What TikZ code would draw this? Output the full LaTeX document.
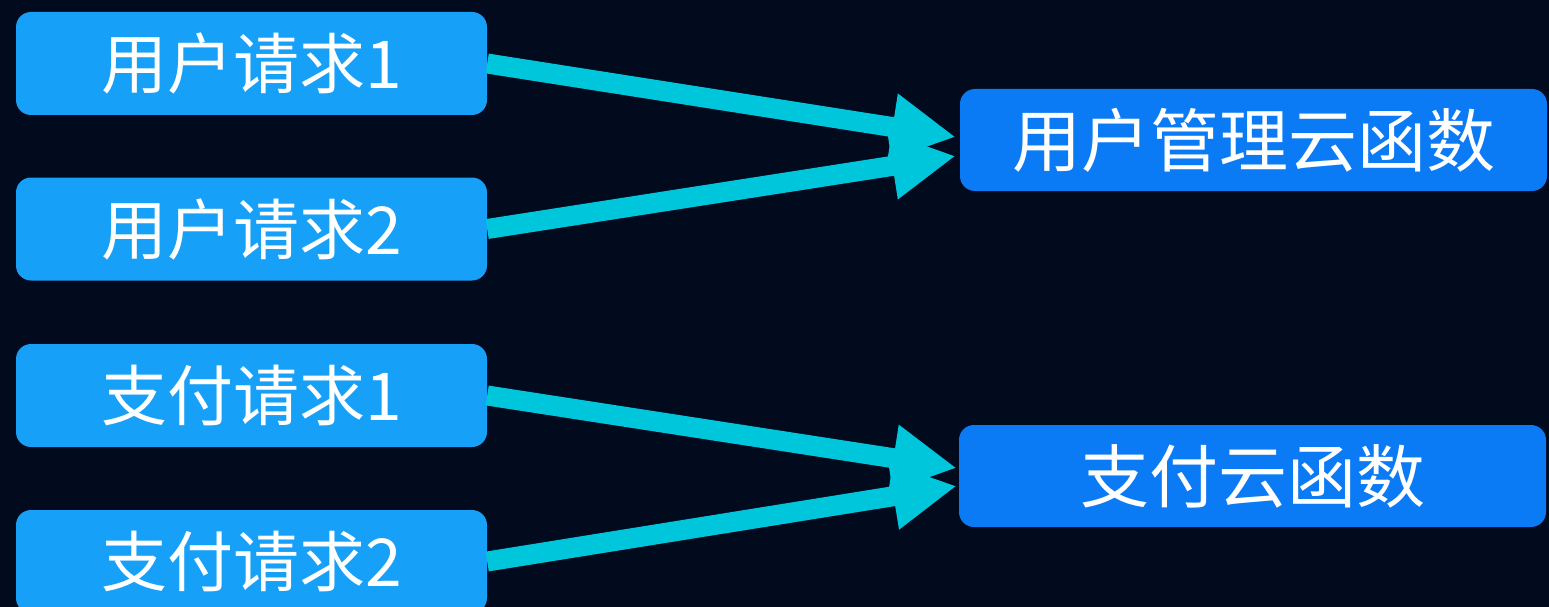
\documentclass[tikz,border=0pt]{standalone}
\usepackage{fontspec}
\setmainfont{Noto Sans CJK SC}
\usetikzlibrary{arrows.meta}
\definecolor{bg}{HTML}{020A1E}
\definecolor{reqblue}{HTML}{17A0F7}
\definecolor{fnblue}{HTML}{0A7AF5}
\definecolor{arrowcyan}{HTML}{00C6DC}
\tikzset{
  reqbox/.style={fill=reqblue, rounded corners=15pt, minimum width=471pt, minimum height=103pt, inner sep=0pt, text=white, font=\fontsize{66}{72}\selectfont},
  fnbox/.style={fill=fnblue, rounded corners=15pt, minimum width=587pt, minimum height=102pt, inner sep=0pt, text=white, font=\fontsize{69}{75}\selectfont},
  flow/.style={draw=arrowcyan, line width=20pt, -{Triangle[length=64pt, width=63pt]}}
}
\begin{document}
\begin{tikzpicture}[x=1pt,y=-1pt]
\fill[bg] (0,0) rectangle (1549,607);
\useasboundingbox (0,0) rectangle (1549,607);
\node[reqbox] (u1) at (251.5,63.5) {用户请求1};
\node[reqbox] (u2) at (251.5,229) {用户请求2};
\node[reqbox] (p1) at (251.5,395.5) {支付请求1};
\node[reqbox] (p2) at (251.5,561.5) {支付请求2};
\node[fnbox] (fu) at (1253.5,140) {用户管理云函数};
\node[fnbox] (fp) at (1252.5,476) {支付云函数};
\draw[flow] (u1.east) -- ([xshift=-4pt,yshift=3pt]fu.west);
\draw[flow] (u2.east) -- ([xshift=-4pt,yshift=-16pt]fu.west);
\draw[flow] (p1.east) -- ([xshift=-2pt,yshift=8pt]fp.west);
\draw[flow] (p2.east) -- ([xshift=-2pt,yshift=-10pt]fp.west);
\end{tikzpicture}
\end{document}
